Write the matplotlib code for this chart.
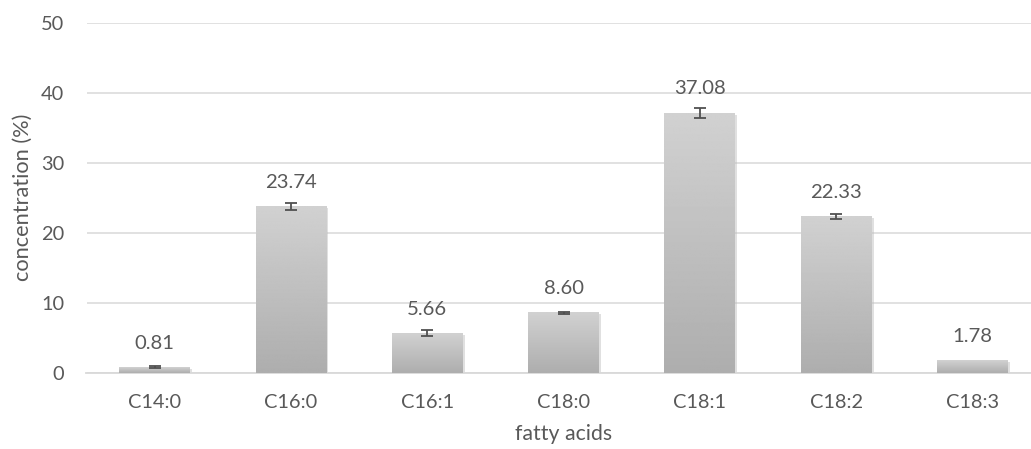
import matplotlib
matplotlib.use("Agg")
import matplotlib.pyplot as plt
import numpy as np

# data
acids = ["C14:0", "C16:0", "C16:1", "C18:0", "C18:1", "C18:2", "C18:3"]
conc = [0.81, 23.74, 5.66, 8.60, 37.08, 22.33, 1.78]
err = [0.12, 0.45, 0.45, 0.15, 0.7, 0.4, 0.0]
yticks = [0, 10, 20, 30, 40, 50]

plt.rcParams['font.family'] = ['Lato', 'DejaVu Sans']
txt = "#595959"

W, H = 1031, 449
fig = plt.figure(figsize=(W / 100, H / 100), dpi=100)
# plot area runs past the right edge of the picture, as in the reference
x0, x1, y0, y1 = 86.5, 1040.6, 373.0, 22.5
ax = fig.add_axes([x0 / W, 1 - y0 / H, (x1 - x0) / W, (y0 - y1) / H])

x = np.arange(len(acids))
w = 0.52

grad = np.linspace(0.68, 0.82, 256).reshape(-1, 1)
for xi, v in zip(x, conc):
    # soft shadow to the right / below
    ax.bar(xi + 0.010, v + 0.1, w + 0.01, bottom=-0.35, color="#bcbcbc",
           alpha=0.45, zorder=2, linewidth=0)
    ax.imshow(grad, cmap="gray", vmin=0, vmax=1, aspect="auto",
              extent=(xi - w / 2, xi + w / 2, 0, v), origin="lower", zorder=3)

# no error bar is drawn where the error is zero
has_err = np.array(err) > 0
ax.errorbar(x[has_err], np.array(conc)[has_err], yerr=np.array(err)[has_err],
            fmt="none", ecolor="#505050", elinewidth=1.3,
            capsize=4.3, capthick=1.3, zorder=4)

labels = []
for xi, v in zip(x, conc):
    labels.append(ax.text(xi, v + 3.45, f"{v:.2f}", ha="center", va="center",
                          fontsize=14, color=txt, zorder=5))

ax.set_xlim(-0.5, len(acids) - 0.5)
ax.set_ylim(0, 50)
ax.set_yticks(yticks)
ax.set_xticks(x)
ax.set_xticklabels(acids)
ax.tick_params(axis="both", length=0, labelsize=14, colors=txt)
ax.tick_params(axis="x", pad=15)
ax.tick_params(axis="y", pad=16)
ax.yaxis.grid(True, color="#d9d9d9", linewidth=1.1)
ax.set_axisbelow(True)
for s in ["top", "right", "left"]:
    ax.spines[s].set_visible(False)
ax.spines["bottom"].set_color("#d9d9d9")
ax.spines["bottom"].set_linewidth(1.3)
ax.spines["bottom"].set_zorder(2.5)

xl = ax.set_xlabel("fatty acids", fontsize=13, color=txt, va="center")
yl = ax.set_ylabel("concentration (%)", fontsize=13, color=txt, va="center")


# scale text so its width in pixels matches the reference
def fit(t, target, horiz=True):
    r = fig.canvas.get_renderer()
    bb = t.get_window_extent(r)
    size = bb.width if horiz else bb.height
    return t.get_fontsize() * target / size


fig.canvas.draw()
fs_data = fit(labels[4], 52)
for t in labels:
    t.set_fontsize(fs_data)
fs_tick = fit(ax.get_xticklabels()[0], 53)
ax.tick_params(axis="both", labelsize=fs_tick)
xl.set_fontsize(fit(xl, 97))
yl.set_fontsize(fit(yl, 167, horiz=False))

# place axis titles at the reference positions
ax.xaxis.set_label_coords(0.5, -(434 - y0) / (y0 - y1))
ax.yaxis.set_label_coords(-(x0 - 23) / (x1 - x0), 0.5)

fig.savefig("out.png", dpi=100)
